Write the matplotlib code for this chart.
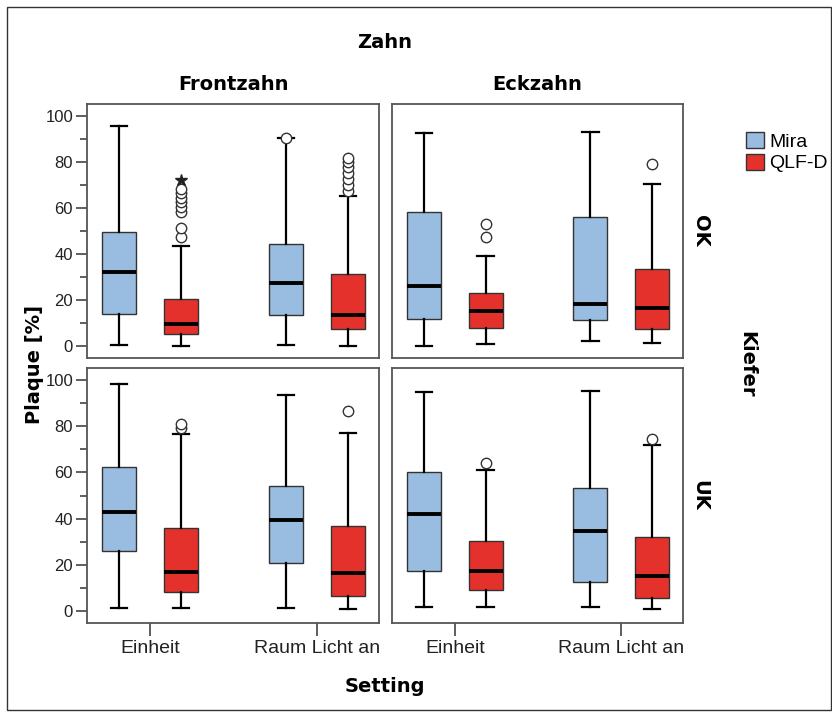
import matplotlib.pyplot as plt
from matplotlib.patches import Patch, Rectangle

plt.rcParams["font.family"] = ["Liberation Sans", "DejaVu Sans"]

settings = ["Einheit", "Raum Licht an"]
teeth = ["Frontzahn", "Eckzahn"]
jaws = ["OK", "UK"]
methods = ["Mira", "QLF-D"]
method_colors = ["#99bde0", "#e5312b"]

# panels: OK/Frontzahn, OK/Eckzahn, UK/Frontzahn, UK/Eckzahn
# boxes per panel: Mira/Einheit, QLF-D/Einheit, Mira/Raum, QLF-D/Raum
whisker_low = [
    [0.7, 0.0, 0.7, 0.0],
    [0.4, 1.0, 2.3, 1.6],
    [1.6, 1.6, 1.6, 0.9],
    [2.0, 1.7, 1.7, 1.0],
]
quartile_1 = [
    [14.2, 5.5, 13.5, 7.6],
    [12.1, 7.8, 11.6, 7.6],
    [26.1, 8.4, 20.9, 6.7],
    [17.4, 9.1, 12.8, 5.7],
]
medians = [
    [32.4, 9.9, 27.3, 13.8],
    [26.3, 15.4, 18.3, 16.7],
    [42.8, 17.2, 39.4, 16.5],
    [41.9, 17.4, 34.6, 15.1],
]
quartile_3 = [
    [49.6, 20.6, 44.2, 31.4],
    [58.3, 23.0, 56.1, 33.6],
    [62.3, 35.9, 53.9, 36.8],
    [60.0, 30.4, 53.3, 32.2],
]
whisker_high = [
    [95.3, 43.4, 90.1, 65.2],
    [92.3, 39.0, 92.7, 70.5],
    [98.0, 76.5, 93.5, 77.1],
    [94.5, 61.2, 94.9, 71.6],
]
outliers = [
    [[], [47.6, 51.5, 58.4, 60.5, 62.5, 64.5, 66.5, 68.0], [90.3],
     [67.5, 70.0, 72.5, 75.0, 77.5, 79.8, 81.6]],
    [[], [47.2, 53.2], [], [78.9]],
    [[], [79.3, 81.0], [], [86.5]],
    [[], [64.0], [], [74.2]],
]
extremes = [
    [[], [71.9], [], []],
    [[], [], [], []],
    [[], [], [], []],
    [[], [], [], []],
]

W, H = 832, 720
fig = plt.figure(figsize=(W / 100, H / 100), dpi=100)


def fx(px):
    return px / W


def fy(py):
    return 1 - py / H


panel_cols = [(87, 379), (392, 683)]
panel_rows = [(104, 358), (368, 623)]

positions = [-0.185, 0.185, 0.815, 1.185]
box_colors = [method_colors[0], method_colors[1]] * 2
edge = "#333333"

for r, jaw in enumerate(jaws):
    for c, tooth in enumerate(teeth):
        k = r * 2 + c
        x0, x1 = panel_cols[c]
        y0, y1 = panel_rows[r]
        ax = fig.add_axes([fx(x0), fy(y1), fx(x1 - x0), (y1 - y0) / H])

        stats = []
        for i in range(4):
            stats.append(dict(
                whislo=whisker_low[k][i],
                q1=quartile_1[k][i],
                med=medians[k][i],
                q3=quartile_3[k][i],
                whishi=whisker_high[k][i],
                fliers=outliers[k][i],
            ))
        bp = ax.bxp(
            stats, positions=positions, widths=0.204, patch_artist=True,
            showfliers=True,
            boxprops=dict(edgecolor=edge, linewidth=1.0),
            medianprops=dict(color="black", linewidth=2.8, solid_capstyle="butt"),
            whiskerprops=dict(color="black", linewidth=1.6),
            capprops=dict(color="black", linewidth=1.6),
            capwidths=0.1,
            flierprops=dict(marker="o", markersize=7.5, markerfacecolor="white",
                            markeredgecolor="#333333", markeredgewidth=1.0),
        )
        for patch, col in zip(bp["boxes"], box_colors):
            patch.set_facecolor(col)
        for i, ext in enumerate(extremes[k]):
            if ext:
                ax.plot([positions[i]] * len(ext), ext, linestyle="none",
                        marker="*", markersize=9, color="#222222")

        ax.set_xlim(-0.377, 1.371)
        ax.set_ylim(-5, 105)
        for sp in ax.spines.values():
            sp.set_color("#555555")
            sp.set_linewidth(1.3)

        if c == 0:
            ax.set_yticks(range(0, 101, 20))
            ax.set_yticks(range(10, 100, 20), minor=True)
            ax.tick_params(axis="y", which="major", length=8, width=1.1,
                           color="#333333", labelsize=12, pad=2,
                           labelcolor="#222222")
            ax.tick_params(axis="y", which="minor", length=5, width=1.1,
                           color="#333333")
        else:
            ax.set_yticks([])

        if r == 1:
            ax.set_xticks([0, 1])
            ax.set_xticklabels(settings)
            ax.tick_params(axis="x", length=9, width=1.1, color="#333333",
                           labelsize=14, pad=3, labelcolor="#222222")
        else:
            ax.set_xticks([])

# facet labels
bold = dict(fontweight="bold", family="DejaVu Sans", fontsize=14)
fig.text(fx(385), fy(42), "Zahn", ha="center", va="center", **bold)
for c, tooth in enumerate(teeth):
    x0, x1 = panel_cols[c]
    fig.text(fx((x0 + x1) / 2), fy(85), tooth, ha="center", va="center", **bold)
for r, jaw in enumerate(jaws):
    y0, y1 = panel_rows[r]
    fig.text(fx(700), fy((y0 + y1) / 2), jaw, ha="center", va="center",
             rotation=-90, **bold)
fig.text(fx(747), fy(364), "Kiefer", ha="center", va="center", rotation=-90, **bold)
fig.text(fx(35), fy(364), "Plaque [%]", ha="center", va="center", rotation=90, **bold)
fig.text(fx(385), fy(686), "Setting", ha="center", va="center", **bold)

handles = [Patch(facecolor=col, edgecolor=edge, linewidth=1.0) for col in method_colors]
fig.legend(handles, methods, loc="upper left", bbox_to_anchor=(fx(746), fy(132)),
           frameon=False, fontsize=14, handlelength=0.9, handleheight=0.9,
           handletextpad=0.3, labelspacing=0.15, borderpad=0, borderaxespad=0)

fig.patches.append(Rectangle((fx(7), fy(710)), fx(824), (710 - 7) / H,
                             transform=fig.transFigure, fill=False,
                             edgecolor="#333333", linewidth=1.0))

fig.savefig("out.png", dpi=100)
